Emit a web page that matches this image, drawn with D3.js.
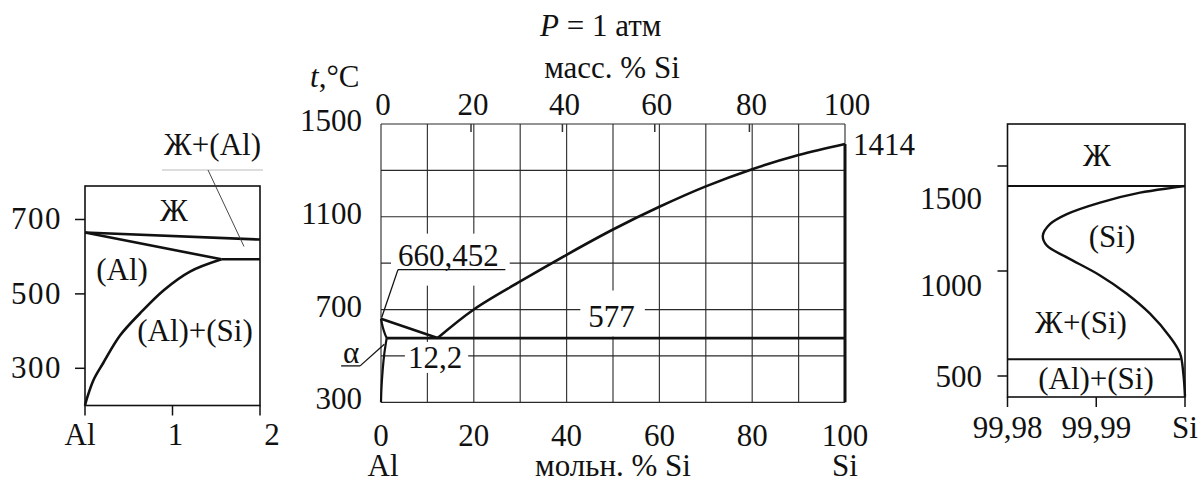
<!DOCTYPE html>
<html lang="ru">
<head>
<meta charset="UTF-8">
<title>Диаграмма состояния Al–Si</title>
<script src="https://d3js.org/d3.v7.min.js"></script>
<style>
  body { margin: 0; background: #fff; }
</style>
</head>
<body>
<svg id="chart" width="1201" height="483"></svg>
<script>
// ---- main diagram: мольн. % Si vs t, °C ----
const gridMol = [0, 10, 20, 30, 40, 50, 60, 70, 80, 90, 100];
const gridTemp = [300, 500, 700, 900, 1100, 1300, 1500];
const molTicks = [0, 20, 40, 60, 80, 100];
const tempTicks = [300, 700, 1100, 1500];
const massLabels = ["0", "20", "40", "60", "80", "100"];
const massAtMol = [0, 19.4, 39.1, 59.0, 79.4, 100];   // where the mass % ticks sit on the mol % scale

const liquidusSi = [[12.2, 577], [20, 700], [30, 821], [40, 936], [50, 1045], [60, 1143], [70, 1231], [80, 1305], [90, 1366], [100, 1414]];
const liquidusAl = [[0, 660], [12.2, 577]];
const solidusAl = [[0, 660], [0.36, 626], [0.86, 594], [1.23, 577]];
const solvusAl = [[1.23, 577], [0.72, 511], [0.36, 439], [0.08, 353], [0, 300]];
const eutectic = [[1.23, 577], [100, 577]];
const pureSi = [[100, 300], [100, 1414]];

// ---- left inset: Al corner, масс. % ----
const leftXTicks = [0, 1, 2];
const leftXLabels = ["Al", "1", "2"];
const leftYTicks = [300, 500, 700];
const leftLiquidus = [[0, 665], [2, 646]];
const leftSolidus = [[0, 665], [1.56, 593]];
const leftEutectic = [[1.56, 593], [2, 593]];
const leftSolvus = [[1.56, 593], [1.2, 560], [0.9, 510], [0.63, 448], [0.4, 388], [0.21, 315], [0.1, 270], [0.03, 225], [0, 200]];

// ---- right inset: Si corner ----
const rightXTicks = [99.98, 99.99, 100];
const rightXLabels = ["99,98", "99,99", "Si"];
const rightYTicks = [500, 1000, 1500];
const rightMelt = [[99.98, 1405], [100, 1405]];
const rightEutectic = [[99.98, 580], [99.9995, 580]];
const rightSolidus = [[100, 1405], [99.99868, 1397], [99.99494, 1373], [99.99043, 1326], [99.98669, 1271],
  [99.98481, 1224], [99.98398, 1168], [99.98443, 1121], [99.98669, 1065], [99.99043, 979],
  [99.99344, 892], [99.99606, 797], [99.99831, 686], [99.99944, 608], [99.99981, 513], [100, 402]];

const svg = d3.select("#chart");
svg.append("rect").attr("width", 1201).attr("height", 483).attr("fill", "#fff");

function addText(g, str, x, y, anchor) {
  return g.append("text").attr("x", x).attr("y", y)
    .attr("text-anchor", anchor || "start")
    .attr("fill", "#111")
    .text(str);
}

function drawPath(g, data, x, y, curve, width) {
  g.append("path")
    .datum(data)
    .attr("d", d3.line().x(d => x(d[0])).y(d => y(d[1])).curve(curve || d3.curveLinear))
    .attr("fill", "none")
    .attr("stroke", "#111")
    .attr("stroke-width", width || 2.6)
    .attr("stroke-linejoin", "round");
}

function thinLine(g, x1, y1, x2, y2, w) {
  g.append("line").attr("x1", x1).attr("y1", y1).attr("x2", x2).attr("y2", y2)
    .attr("stroke", "#111").attr("stroke-width", w || 1.3);
}

// ================= main =================
const xM = d3.scaleLinear().domain([0, 100]).range([381, 845]);
const yM = d3.scaleLinear().domain([300, 1500]).range([402.3, 124]);
const gM = svg.append("g");

gM.selectAll(".gv").data(gridMol).enter().append("line")
  .attr("x1", d => xM(d)).attr("x2", d => xM(d))
  .attr("y1", yM(300)).attr("y2", yM(1500))
  .attr("stroke", "#3a3a3a").attr("stroke-width", 1.2);
gM.selectAll(".gh").data(gridTemp).enter().append("line")
  .attr("x1", xM(0)).attr("x2", xM(100))
  .attr("y1", d => yM(d)).attr("y2", d => yM(d))
  .attr("stroke", "#2a2a2a").attr("stroke-width", 1.2);

// mass % ticks hanging from the top edge
gM.selectAll(".mt").data(massAtMol.slice(1, -1)).enter().append("line")
  .attr("x1", d => xM(d)).attr("x2", d => xM(d))
  .attr("y1", yM(1500)).attr("y2", yM(1500) + 8)
  .attr("stroke", "#333").attr("stroke-width", 1.5);

// labels sitting on the grid; white patches break the grid lines behind them
const patches = gM.append("g");
const lab660 = addText(gM, "660,452", xM(3.66), yM(900) + 2.5);
const lab577 = addText(gM, "577", xM(49.7), yM(700) + 17, "middle");
const lab122 = addText(gM, "12,2", xM(5.8), yM(500) + 12);

thinLine(gM, xM(3.66), yM(900) + 6.5, xM(26.8), yM(900) + 6.5);
thinLine(gM, xM(3.66), yM(900) + 6.5, xM(0.15), yM(666));

// α with underline + leader
addText(gM, "α", xM(-8.2), yM(469));
thinLine(gM, xM(-8.6), yM(457), xM(-4.5), yM(457));
thinLine(gM, xM(-4.5), yM(457), xM(0.71), yM(550));

drawPath(gM, liquidusSi, xM, yM, d3.curveCatmullRom, 2.6);
drawPath(gM, liquidusAl, xM, yM, d3.curveLinear, 2.6);
drawPath(gM, solidusAl, xM, yM, d3.curveCatmullRom, 2.2);
drawPath(gM, solvusAl, xM, yM, d3.curveCatmullRom, 2.2);
drawPath(gM, eutectic, xM, yM, d3.curveLinear, 2.8);
drawPath(gM, pureSi, xM, yM, d3.curveLinear, 3);

// axes labels
tempTicks.forEach(d => addText(gM, d, xM(0) - 19, yM(d) + 7, "end"));
molTicks.forEach(d => addText(gM, d, xM(d), 446, "middle"));
massAtMol.forEach((d, i) => addText(gM, massLabels[i], xM(d) + 2, 115, "middle"));

addText(gM, "1414", xM(100) + 8, yM(1414) + 11);
addText(gM, "Al", xM(0) + 2, 476, "middle");
addText(gM, "Si", xM(100), 476, "middle");
addText(gM, "мольн. % Si", 613, 476, "middle");
addText(gM, "масс. % Si", 612, 77.7, "middle");
const pt = addText(gM, "", 540, 36);
pt.append("tspan").attr("font-style", "italic").text("P");
pt.append("tspan").text(" = 1 атм");
const tt = addText(gM, "", 310, 87);
tt.append("tspan").attr("font-style", "italic").text("t");
tt.append("tspan").text(",°C");

// ================= left inset =================
const xL = d3.scaleLinear().domain([0, 2]).range([85, 260]);
const yL = d3.scaleLinear().domain([200, 790]).range([405.5, 186]);
const gL = svg.append("g");

gL.append("rect").attr("x", xL(0)).attr("y", yL(790))
  .attr("width", xL(2) - xL(0)).attr("height", yL(200) - yL(790))
  .attr("fill", "none").attr("stroke", "#111").attr("stroke-width", 1.6);
gL.selectAll(".ty").data(leftYTicks).enter().append("line")
  .attr("x1", xL(0) - 10).attr("x2", xL(0)).attr("y1", d => yL(d)).attr("y2", d => yL(d))
  .attr("stroke", "#111").attr("stroke-width", 1.5);
gL.selectAll(".tx").data(leftXTicks).enter().append("line")
  .attr("x1", d => xL(d)).attr("x2", d => xL(d)).attr("y1", yL(200)).attr("y2", yL(200) + 10)
  .attr("stroke", "#111").attr("stroke-width", 1.5);
leftYTicks.forEach(d => addText(gL, d, 62, yL(d) + 10, "end").attr("letter-spacing", 1.5));
const leftNudge = [-5, 3, 12];
leftXTicks.forEach((d, i) => addText(gL, leftXLabels[i], xL(d) + leftNudge[i], 445, "middle"));

drawPath(gL, leftLiquidus, xL, yL, d3.curveLinear, 2.6);
drawPath(gL, leftSolidus, xL, yL, d3.curveLinear, 2.6);
drawPath(gL, leftEutectic, xL, yL, d3.curveLinear, 2.6);
drawPath(gL, leftSolvus, xL, yL, d3.curveCatmullRom, 2.6);

addText(gL, "Ж", 174, 221, "middle");
addText(gL, "(Al)", 122, 280, "middle");
addText(gL, "(Al)+(Si)", 195, 341, "middle");
addText(gL, "Ж+(Al)", 212.5, 155, "middle");
gL.append("line").attr("x1", 162).attr("x2", 263).attr("y1", 170).attr("y2", 170)
  .attr("stroke", "#bbb").attr("stroke-width", 1);
gL.append("line").attr("x1", 208).attr("y1", 170).attr("x2", 244).attr("y2", 246.5)
  .attr("stroke", "#333").attr("stroke-width", 0.9);

// ================= right inset =================
const xR = d3.scaleLinear().domain([99.98, 100]).range([1007.5, 1185]);
const yR = d3.scaleLinear().domain([400, 1700]).range([397, 124]);
const gR = svg.append("g");

gR.append("rect").attr("x", xR(99.98)).attr("y", yR(1700))
  .attr("width", xR(100) - xR(99.98)).attr("height", yR(400) - yR(1700))
  .attr("fill", "none").attr("stroke", "#111").attr("stroke-width", 1.6);
gR.selectAll(".ty").data(rightYTicks).enter().append("line")
  .attr("x1", xR(99.98) - 10).attr("x2", xR(99.98)).attr("y1", d => yR(d)).attr("y2", d => yR(d))
  .attr("stroke", "#111").attr("stroke-width", 1.5);
gR.selectAll(".tx").data(rightXTicks).enter().append("line")
  .attr("x1", d => xR(d)).attr("x2", d => xR(d)).attr("y1", yR(400)).attr("y2", yR(400) + 10)
  .attr("stroke", "#111").attr("stroke-width", 1.5);
const rightNudge = { 1500: 32, 1000: 14, 500: 0 };
rightYTicks.forEach(d => addText(gR, d, 982, yR(d) + 10.5 + rightNudge[d], "end"));
rightXTicks.forEach((d, i) => addText(gR, rightXLabels[i], xR(d), 438, "middle"));

drawPath(gR, rightMelt, xR, yR, d3.curveLinear, 2);
drawPath(gR, rightEutectic, xR, yR, d3.curveLinear, 2);
drawPath(gR, rightSolidus, xR, yR, d3.curveCatmullRom, 2.4);

addText(gR, "Ж", 1097, 166, "middle");
addText(gR, "(Si)", 1112, 247, "middle");
addText(gR, "Ж+(Si)", 1081, 333, "middle");
addText(gR, "(Al)+(Si)", 1096, 389, "middle");

// font for every label, set inline on each text node
svg.selectAll("text")
  .style("font-family", "'Liberation Serif'")
  .style("font-size", "31px");

// white patches now that the serif metrics are in place; pad = [left, top, right, bottom]
[[lab660, [7, 4, 11, 13]], [lab577, [8, 8, 10, 3]], [lab122, [3, -2, 6, -2]]].forEach(([t, pad]) => {
  const b = t.node().getBBox();
  patches.append("rect")
    .attr("x", b.x - pad[0]).attr("y", b.y - pad[1])
    .attr("width", b.width + pad[0] + pad[2]).attr("height", b.height + pad[1] + pad[3])
    .attr("fill", "#fff");
});
</script>
</body>
</html>
